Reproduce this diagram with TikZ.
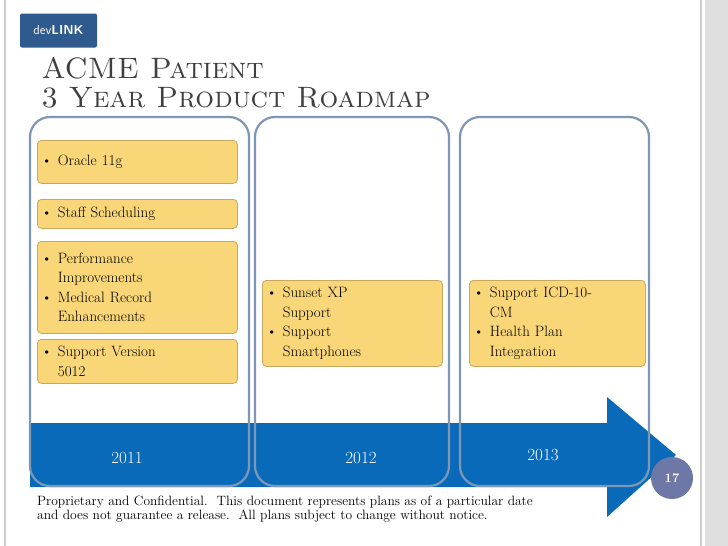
\documentclass[tikz,border=0pt]{standalone}
\usepackage{fontspec}
\usetikzlibrary{positioning}
\definecolor{bandblue}{HTML}{0A6ABA}
\definecolor{colline}{HTML}{7D97B5}
\definecolor{noteyellow}{HTML}{F9D779}
\definecolor{noteedge}{HTML}{C8A860}
\definecolor{pagecirc}{HTML}{6E78A6}
\definecolor{logoblue}{HTML}{2F5A8E}
\tikzset{
  yearcol/.style={draw=colline, line width=2.2pt, rounded corners=20pt},
  note/.style={draw=noteedge, fill=noteyellow, rounded corners=4pt, line width=.8pt,
    text width=#1, align=left, inner sep=4pt, font=\fontsize{15}{19.5}\selectfont, anchor=north west},
  year/.style={text=white, font=\fontsize{17}{17}\selectfont}
}
\newcommand{\bul}{\makebox[1.1em][l]{\textbullet}}
\begin{document}
\begin{tikzpicture}[x=1pt,y=-1pt]
\useasboundingbox (0,0) rectangle (728,546);
% slide frame
\fill[white] (0,0) rectangle (728,546);
\fill[gray!25] (705,0) rectangle (728,546);
\draw[gray!40, line width=1.5pt] (5,0) -- (5,546) (701,0) -- (701,546);
% logo
\node[fill=logoblue, rounded corners=2pt, text=white, minimum width=77pt, minimum height=34pt,
  font=\sffamily\fontsize{13}{13}\selectfont, inner sep=1pt] (logo) at (58.5,30.5) {dev\textbf{LINK}};
% title
\node[anchor=west, font=\fontsize{29.5}{29.5}\selectfont, text=black!75] (title1) at (38,68) {\textsc{ACME Patient}};
\node[anchor=west, font=\fontsize{29.5}{29.5}\selectfont, text=black!75] (title2) at (38,98) {\textsc{3 Year Product Roadmap}};
% timeline arrow
\fill[bandblue] (30,423) -- (607,423) -- (607,397) -- (676,455) -- (607,517) -- (607,487) -- (30,487) -- cycle;
% year columns
\draw[yearcol] (30,117) rectangle (249,486);
\draw[yearcol] (255,117) rectangle (449,486);
\draw[yearcol] (460,117) rectangle (649,486);
\node[year] (y2011) at (127,458) {2011};
\node[year] (y2012) at (361,458) {2012};
\node[year] (y2013) at (543,455) {2013};
% features
\node[note=192pt, minimum height=43pt] (oracle) at (37,140) {\bul Oracle 11g};
\node[note=192pt, minimum height=29pt] (staff) at (37,199) {\bul Staff Scheduling};
\node[note=192pt, minimum height=92pt] (perf) at (37,241) {\bul Performance\\\hspace*{1.1em}Improvements\\\bul Medical Record\\\hspace*{1.1em}Enhancements};
\node[note=192pt, minimum height=44pt] (version) at (37,339) {\bul Support Version\\\hspace*{1.1em}5012};
\node[note=172pt, minimum height=86pt] (sunset) at (262,280) {\bul Sunset XP\\\hspace*{1.1em}Support\\\bul Support\\\hspace*{1.1em}Smartphones};
\node[note=168pt, minimum height=86pt] (icd) at (469,280) {\bul Support ICD-10-\\\hspace*{1.1em}CM\\\bul Health Plan\\\hspace*{1.1em}Integration};
% page number and footer
\node[circle, fill=pagecirc, minimum size=42pt, text=white, font=\fontsize{13}{13}\selectfont\bfseries] (page) at (672,478) {17};
\node[anchor=north west, align=left, font=\fontsize{13.5}{14}\selectfont, inner sep=0pt] (footer) at (37,496)
  {Proprietary and Confidential.\ \ This document represents plans as of a particular date\\and does not guarantee a release.\ \ All plans subject to change without notice.};
\end{tikzpicture}
\end{document}
